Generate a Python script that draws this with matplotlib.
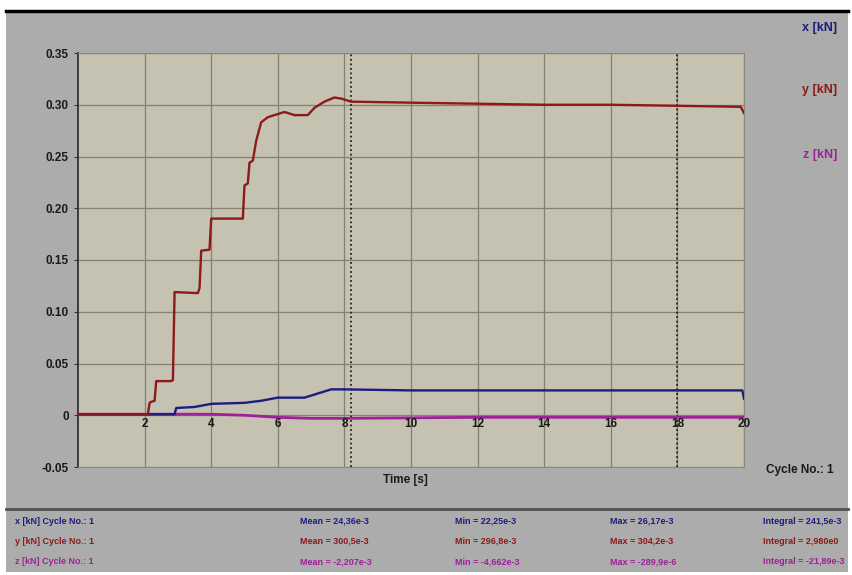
import matplotlib.pyplot as plt
from matplotlib.patches import Rectangle

plt.rcParams['font.family'] = ['Liberation Sans', 'DejaVu Sans']

# breakpoints (time in s, force in kN)
y_time = [0, 2.1, 2.15, 2.2, 2.3, 2.35, 2.8, 2.85, 2.9, 3.6, 3.65, 3.7, 3.95, 4.0, 4.95, 5.0, 5.1,
          5.15, 5.25, 5.35, 5.5, 5.7, 6.0, 6.2, 6.5, 6.9, 7.1, 7.4, 7.7, 7.9, 8.2, 10, 12, 14, 16, 18, 19.9, 20.0]
y_force = [0.001, 0.001, 0.012, 0.013, 0.014, 0.033, 0.033, 0.034, 0.119, 0.118, 0.123, 0.159, 0.16, 0.19, 0.19, 0.222, 0.224,
           0.244, 0.246, 0.265, 0.283, 0.288, 0.291, 0.293, 0.29, 0.29, 0.297, 0.303, 0.307, 0.306, 0.303, 0.302, 0.301, 0.300, 0.300, 0.299, 0.298, 0.292]

x_time = [0, 2.9, 2.95, 3.5, 4.0, 5.0, 5.5, 6.0, 6.8, 7.2, 7.6, 8.0, 10, 14, 18, 19.95, 20.0]
x_force = [0.001, 0.001, 0.007, 0.008, 0.011, 0.012, 0.014, 0.017, 0.017, 0.021, 0.025, 0.025, 0.024, 0.024, 0.024, 0.024, 0.016]

z_time = [0, 4.0, 5.0, 6.0, 7.0, 8.0, 12, 16, 20]
z_force = [0.001, 0.001, 0.0, -0.002, -0.003, -0.003, -0.002, -0.002, -0.002]

x_ticks = [2, 4, 6, 8, 10, 12, 14, 16, 18, 20]
y_ticks = [-0.05, 0, 0.05, 0.10, 0.15, 0.20, 0.25, 0.30, 0.35]
y_ticklabels = ['-0.05', '0', '0.05', '0.10', '0.15', '0.20', '0.25', '0.30', '0.35']
cursors = [8.2, 18.0]

channels = ['x [kN]', 'y [kN]', 'z [kN]']
means = ['24,36e-3', '300,5e-3', '-2,207e-3']
mins = ['22,25e-3', '296,8e-3', '-4,662e-3']
maxs = ['26,17e-3', '304,2e-3', '-289,9e-6']
integrals = ['241,5e-3', '2,980e0', '-21,89e-3']

colors = ['#1c1c80', '#8c1a1a', '#a0209a']
bg = '#acacac'
plot_bg = '#c6c2b2'

fig = plt.figure(figsize=(8.52, 5.75), dpi=100, facecolor='white')
fig.patches.append(Rectangle((6 / 852, 3 / 575), 842 / 852, 560 / 575, transform=fig.transFigure,
                             facecolor=bg, edgecolor='none', zorder=-10))
fig.add_artist(plt.Line2D([6 / 852, 848 / 852], [1 - 11 / 575] * 2, color='black', lw=2.5))
fig.add_artist(plt.Line2D([6 / 852, 848 / 852], [1 - 509 / 575] * 2, color='#505050', lw=2))

ax = fig.add_axes([78 / 852, 1 - 467 / 575, 666 / 852, 414 / 575])
ax.set_facecolor(plot_bg)
ax.set_xlim(0, 20)
ax.set_ylim(-0.05, 0.35)

ax.grid(True, color='#84826f', lw=0.9)
ax.set_axisbelow(True)
for c in cursors:
    ax.axvline(c, color='#222222', ls=(0, (1, 1.5)), lw=1.3, zorder=2)

ax.plot(z_time, z_force, color=colors[2], lw=2.0, zorder=3)
ax.plot(x_time, x_force, color=colors[0], lw=1.7, zorder=4)
ax.plot(y_time, y_force, color=colors[1], lw=1.7, zorder=5)

ax.set_yticks(y_ticks)
ax.set_yticklabels(y_ticklabels, fontsize=8.5, fontweight='bold', color='#1a1a1a')
ax.set_xticks(x_ticks)
ax.set_xticklabels([])
for t in x_ticks:
    ax.text(t, -0.003, str(t), ha='center', va='top', fontsize=8.5, fontweight='bold', color='#1a1a1a')
ax.tick_params(axis='y', length=3, color='#333333')
ax.tick_params(axis='x', length=0)
ax.spines['left'].set_color('#333333')
ax.spines['left'].set_linewidth(1.3)
for s in ['top', 'right', 'bottom']:
    ax.spines[s].set_color('#8a8878')

fig.text(405 / 852, 1 - 480 / 575, 'Time [s]', ha='center', va='center', fontsize=8.5, fontweight='bold', color='#1a1a1a')
fig.text(800 / 852, 1 - 470 / 575, 'Cycle No.: 1', ha='center', va='center', fontsize=8.5, fontweight='bold', color='#1a1a1a')

for i, (name, ypos) in enumerate(zip(channels, [28, 90, 155])):
    fig.text(820 / 852, 1 - ypos / 575, name, ha='center', va='center', fontsize=9, fontweight='bold', color=colors[i])

for i, ypos in enumerate([521, 541, 562]):
    yy = 1 - ypos / 575
    kw = dict(va='center', fontsize=6.5, fontweight='bold', color=colors[i])
    fig.text(15 / 852, yy, channels[i] + ' Cycle No.: 1', **kw)
    fig.text(300 / 852, yy, 'Mean = ' + means[i], **kw)
    fig.text(455 / 852, yy, 'Min = ' + mins[i], **kw)
    fig.text(610 / 852, yy, 'Max = ' + maxs[i], **kw)
    fig.text(763 / 852, yy, 'Integral = ' + integrals[i], **kw)

fig.savefig('out.png', dpi=100, facecolor='white')
